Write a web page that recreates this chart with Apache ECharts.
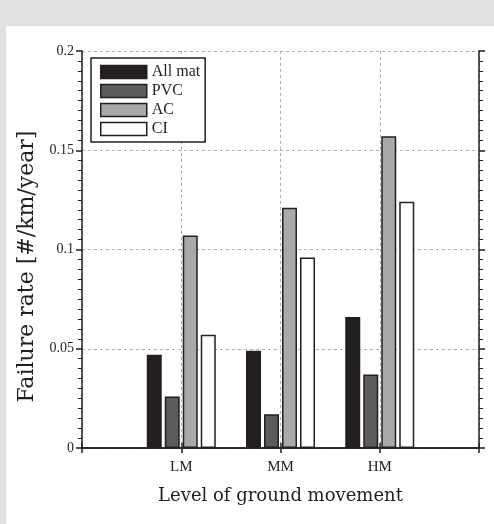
<!DOCTYPE html>
<html>
<head>
<meta charset="utf-8">
<script src="https://cdn.jsdelivr.net/npm/echarts@6/dist/echarts.min.js"></script>
<style>
html,body{margin:0;padding:0;background:#e1e1df;}
#chart{width:494px;height:524px;}
</style>
</head>
<body>
<div id="chart"></div>
<script>
const categories = ['LM', 'MM', 'HM'];
const allMat = [0.047, 0.049, 0.066];
const pvc = [0.026, 0.017, 0.037];
const ac = [0.107, 0.121, 0.157];
const ci = [0.057, 0.096, 0.124];
const seriesNames = ['All mat', 'PVC', 'AC', 'CI'];
const yTicks = [0, 0.05, 0.1, 0.15, 0.2];

const axisCats = [''].concat(categories).concat(['']);
const pad = arr => ['-'].concat(arr).concat(['-']);
const INK = '#231f20';
const serif = 'Liberation Serif';
const wideSerif = 'DejaVu Serif';
const colors = [INK, '#5c5c5c', '#a9a9a9', '#ffffff'];
const seriesData = [allMat, pvc, ac, ci];

const chart = echarts.init(document.getElementById('chart'), null, {renderer: 'canvas'});
const mkSeries = (i) => ({
  name: seriesNames[i],
  type: 'bar',
  data: pad(seriesData[i]),
  barWidth: 15,
  barGap: '20%',
  itemStyle: {color: colors[i], borderColor: INK, borderWidth: 1.5},
  xAxisIndex: 0,
  yAxisIndex: 0
});

chart.setOption({
  backgroundColor: '#e1e1df',
  animation: false,
  graphic: [{
    type: 'rect', left: 6, top: 26, z: -10,
    shape: {width: 488, height: 498},
    style: {fill: '#ffffff'}
  }],
  grid: {left: 82, right: 15, top: 51, bottom: 76, containLabel: false},
  legend: {
    orient: 'vertical', left: 91, top: 58,
    padding: [6, 5, 5, 9], itemGap: 3,
    itemWidth: 46, itemHeight: 13,
    icon: 'rect',
    borderColor: INK, borderWidth: 1.5, borderRadius: 0,
    backgroundColor: '#ffffff',
    itemStyle: {borderColor: INK, borderWidth: 1.5},
    textStyle: {fontFamily: serif, fontSize: 16, color: INK},
    data: seriesNames
  },
  xAxis: [{
    type: 'category', data: axisCats, boundaryGap: false, position: 'bottom',
    name: 'Level of ground movement', nameLocation: 'middle', nameGap: 39,
    nameTextStyle: {fontFamily: wideSerif, fontSize: 18, color: INK},
    axisLine: {lineStyle: {color: INK, width: 1.5}},
    axisTick: {show: true, length: 5, inside: false, lineStyle: {color: INK, width: 1.5}, alignWithLabel: true},
    axisLabel: {fontFamily: serif, fontSize: 15, color: INK, margin: 12},
    splitLine: {show: true, lineStyle: {color: '#b0b0b0', type: [3, 3], width: 1}}
  }, {
    type: 'category', data: axisCats, boundaryGap: false, position: 'top',
    axisLine: {lineStyle: {color: INK, width: 1.5}},
    axisTick: {show: true, length: 5, lineStyle: {color: INK, width: 1.5}},
    axisLabel: {show: false},
    splitLine: {show: false}
  }],
  yAxis: [{
    type: 'value', min: 0, max: 0.2, interval: 0.05, position: 'left',
    name: 'Failure rate [#/km/year]', nameLocation: 'middle', nameGap: 42,
    nameTextStyle: {fontFamily: wideSerif, fontSize: 22, color: INK, padding: [0, 34, 0, 0]},
    axisLine: {show: true, lineStyle: {color: INK, width: 1.5}},
    axisTick: {show: true, length: 6, lineStyle: {color: INK, width: 1.5}},
    minorTick: {show: true, splitNumber: 10, length: 4, lineStyle: {color: INK, width: 1}},
    axisLabel: {fontFamily: serif, fontSize: 14, color: INK, margin: 8,
      formatter: v => { const t = yTicks.find(x => Math.abs(x - v) < 1e-9); return t === undefined ? '' : String(t); }},
    splitLine: {show: true, lineStyle: {color: '#b0b0b0', type: [3, 3], width: 1}}
  }, {
    type: 'value', min: 0, max: 0.2, interval: 0.05, position: 'right',
    axisLine: {show: true, lineStyle: {color: INK, width: 1.5}},
    axisTick: {show: true, length: 6, lineStyle: {color: INK, width: 1.5}},
    minorTick: {show: true, splitNumber: 10, length: 4, lineStyle: {color: INK, width: 1}},
    axisLabel: {show: false},
    splitLine: {show: false}
  }],
  series: [0, 1, 2, 3].map(mkSeries)
});
</script>
</body>
</html>
